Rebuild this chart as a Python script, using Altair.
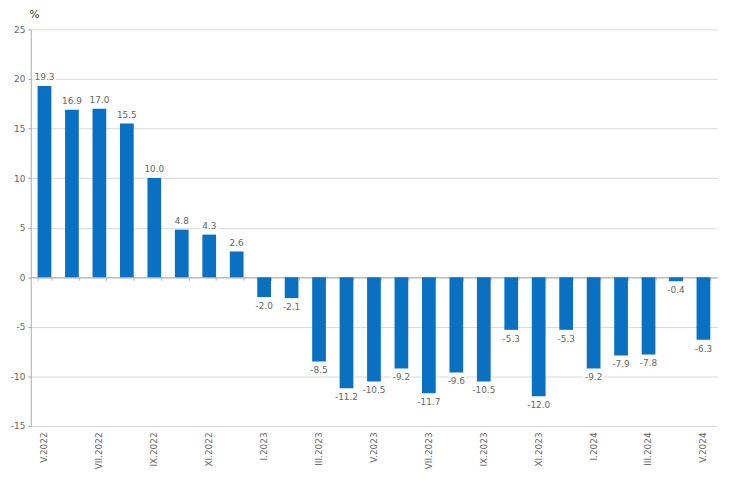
import altair as alt
import pandas as pd

months = ["V.2022", "VI.2022", "VII.2022", "VIII.2022", "IX.2022", "X.2022", "XI.2022", "XII.2022",
          "I.2023", "II.2023", "III.2023", "IV.2023", "V.2023", "VI.2023", "VII.2023", "VIII.2023",
          "IX.2023", "X.2023", "XI.2023", "XII.2023", "I.2024", "II.2024", "III.2024", "IV.2024", "V.2024"]
values = [19.3, 16.9, 17.0, 15.5, 10.0, 4.8, 4.3, 2.6,
          -2.0, -2.1, -8.5, -11.2, -10.5, -9.2, -11.7, -9.6,
          -10.5, -5.3, -12.0, -5.3, -9.2, -7.9, -7.8, -0.4, -6.3]
shown_labels = months[::2]
y_ticks = [-15, -10, -5, 0, 5, 10, 15, 20, 25]

df = pd.DataFrame({"month": months, "value": values})
df["label"] = df["value"].map(lambda v: f"{v:.1f}")

W, H = 694, 401
ymin, ymax = -15, 25
font = "DejaVu Sans"
blue = "#0A70C2"
gray_text = "#666666"

xscale = alt.Scale(domain=months, paddingInner=0.5, paddingOuter=0.25)
yscale = alt.Scale(domain=[ymin, ymax], nice=False)

y_enc = alt.Y("value:Q", scale=yscale,
              axis=alt.Axis(values=y_ticks, grid=True, gridColor="#d9d9d9", domainColor="#aaaaaa",
                            tickColor="#aaaaaa", tickSize=3, labelPadding=3, labelFont=font,
                            labelFontSize=9, labelColor=gray_text, labelExpr="'' + datum.value",
                            title="%", titleAngle=0, titleAlign="left", titleBaseline="bottom",
                            titleX=-2, titleY=-10, titleFont=font, titleFontSize=11,
                            titleFontWeight="normal", titleColor="#333333"))

base = alt.Chart(df)

bars = base.mark_bar(color=blue).encode(
    x=alt.X("month:N", scale=xscale, sort=months,
            axis=alt.Axis(values=shown_labels, labelAngle=-90, domain=False, ticks=False,
                          orient="bottom", labelPadding=6, labelFont=font, labelFontSize=9,
                          labelColor=gray_text, title=None, grid=False)),
    y=y_enc,
)

zero_axis = base.mark_bar(opacity=0).encode(
    x=alt.X("month:N", scale=xscale, sort=months,
            axis=alt.Axis(labels=False, domain=True, domainColor="#b0b0b0", ticks=True,
                          tickColor="#b0b0b0", tickSize=3, tickBand="extent", orient="bottom",
                          offset=-H * (0 - ymin) / (ymax - ymin), title=None, grid=False)),
    y=y_enc,
)

def labels(filter_expr, baseline, dy):
    halo = base.transform_filter(filter_expr).mark_text(
        baseline=baseline, dy=dy, font=font, fontSize=9, color="white",
        stroke="white", strokeWidth=5).encode(
        x=alt.X("month:N", scale=xscale, sort=months, axis=None),
        y=y_enc,
        text="label:N")
    txt = base.transform_filter(filter_expr).mark_text(
        baseline=baseline, dy=dy, font=font, fontSize=9, color=gray_text).encode(
        x=alt.X("month:N", scale=xscale, sort=months, axis=None),
        y=y_enc,
        text="label:N")
    return [halo, txt]

pos = labels("datum.value >= 0", "bottom", -4)
neg = labels("datum.value < 0", "top", 5)

chart = alt.layer(bars, zero_axis, *pos, *neg).resolve_axis(x="independent").properties(
    width=W, height=H,
    background="white",
    autosize=alt.AutoSizeParams(type="none"),
    padding={"left": 23, "top": 19, "right": 15, "bottom": 55},
).configure_view(strokeWidth=0, stroke="transparent")

chart.save("out.html", embed_options={"renderer": "svg", "actions": False})
